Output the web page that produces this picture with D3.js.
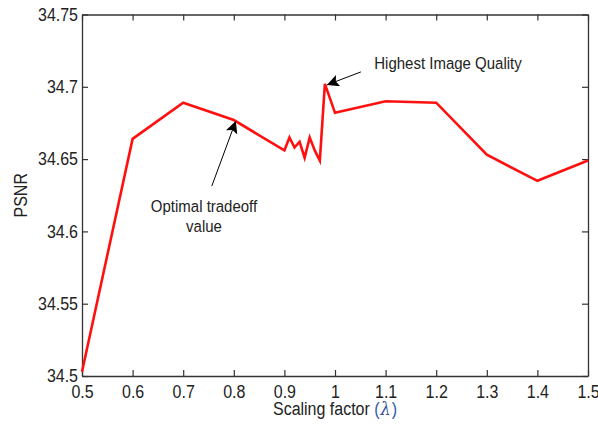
<!DOCTYPE html>
<html><head><meta charset="utf-8">
<script src="https://cdn.jsdelivr.net/npm/d3@7"></script>
<style>
body{margin:0;background:#fff;}
text{font-family:"Liberation Sans",Arial,sans-serif;fill:#222;}
</style></head>
<body><svg id="c" width="598" height="425"></svg>
<script>
const xVals = [0.5,0.6,0.7,0.8,0.9,0.91,0.92,0.93,0.94,0.95,0.96,0.97,0.98,1.0,1.1,1.2,1.3,1.4,1.5];
const psnr  = [34.503,34.664,34.689,34.677,34.656,34.665,34.658,34.662,34.651,34.665,34.656,34.649,34.702,34.682,34.690,34.689,34.653,34.635,34.649];
const xTicks = [0.5,0.6,0.7,0.8,0.9,1.0,1.1,1.2,1.3,1.4,1.5];
const yTicks = [34.5,34.55,34.6,34.65,34.7,34.75];
const xLabel = "Scaling factor";
const yLabel = "PSNR";
const annHigh = {x:0.98, y:34.702, text:["Highest Image Quality"]};
const annOpt = {x:0.8, y:34.677, text:["Optimal tradeoff","value"]};

const L=82,R=588,T=14.5,B=376;
const SY=1.1;
const svg=d3.select("#c");
const x=d3.scaleLinear().domain([0.5,1.5]).range([L,R]);
const y=d3.scaleLinear().domain([34.5,34.75]).range([B,T]);

const fmt=d=>String(+d.toFixed(2));
const gx=svg.append("g").attr("transform",`translate(0,${B})`)
  .call(d3.axisBottom(x).tickValues(xTicks).tickSizeInner(-6).tickSizeOuter(0).tickPadding(9).tickFormat(fmt));
const gy=svg.append("g").attr("transform",`translate(${L},0)`)
  .call(d3.axisLeft(y).tickValues(yTicks).tickSizeInner(-6).tickSizeOuter(0).tickPadding(4).tickFormat(fmt));
const gt=svg.append("g").attr("transform",`translate(0,${T})`)
  .call(d3.axisTop(x).tickValues(xTicks).tickSizeInner(-6).tickSizeOuter(0).tickFormat(""));
const gr=svg.append("g").attr("transform",`translate(${R},0)`)
  .call(d3.axisRight(y).tickValues(yTicks).tickSizeInner(-6).tickSizeOuter(0).tickFormat(""));
[gx,gy,gt,gr].forEach(g=>{
  g.selectAll("path").attr("stroke","#333").attr("stroke-width",1.3);
  g.selectAll("line").attr("stroke","#333").attr("stroke-width",1.2);
  g.selectAll("text").attr("font-size",16).attr("fill","#222")
   .attr("font-family","Liberation Sans, Arial, sans-serif").attr("transform",`scale(1,${SY})`);
});

svg.append("path").datum(xVals.map((v,i)=>[v,psnr[i]]))
  .attr("fill","none").attr("stroke","#ff1010").attr("stroke-width",2.6).attr("stroke-linejoin","miter")
  .attr("d",d3.line().x(d=>x(d[0])).y(d=>y(d[1])));

function stretched(px,py,extra){
  return `translate(${px},${py})${extra||""} scale(1,${SY})`;
}
const xl=svg.append("text").attr("transform",stretched((L+R)/2,415)).attr("text-anchor","middle").attr("font-size",16);
xl.append("tspan").text(xLabel+" ");
xl.append("tspan").attr("fill","#2f5aa8").text("(");
xl.append("tspan").attr("dx",1).attr("fill","#3a4fa0").attr("font-style","italic").attr("font-family","DejaVu Serif, serif").text("λ");
xl.append("tspan").attr("dx",1).attr("fill","#2f5aa8").text(")");
svg.append("text").attr("transform",`translate(27,${(T+B)/2}) rotate(-90) scale(1,${SY})`).attr("text-anchor","middle").attr("font-size",16).text(yLabel);

const defs=svg.append("defs");
defs.append("marker").attr("id","ah").attr("viewBox","0 0 10 10").attr("refX",10).attr("refY",5)
  .attr("markerWidth",16).attr("markerHeight",12).attr("markerUnits","userSpaceOnUse").attr("orient","auto")
  .append("path").attr("d","M0,0 L10,5 L0,10 L2,5 Z").attr("fill","#000");
function arrow(a,dx,dy){
  const tx=x(a.x)+2, ty=y(a.y)+1;
  svg.append("line").attr("x1",tx+dx).attr("y1",ty+dy).attr("x2",tx).attr("y2",ty)
    .attr("stroke","#000").attr("stroke-width",1).attr("marker-end","url(#ah)");
}
arrow(annHigh,34,-13);
arrow(annOpt,-24,65);
svg.append("text").attr("transform",stretched(448,69)).attr("text-anchor","middle").attr("font-size",15).text(annHigh.text[0]);
annOpt.text.forEach((t,i)=>svg.append("text").attr("transform",stretched(204,212+i*20))
  .attr("text-anchor","middle").attr("font-size",15).text(t));
</script></body></html>
